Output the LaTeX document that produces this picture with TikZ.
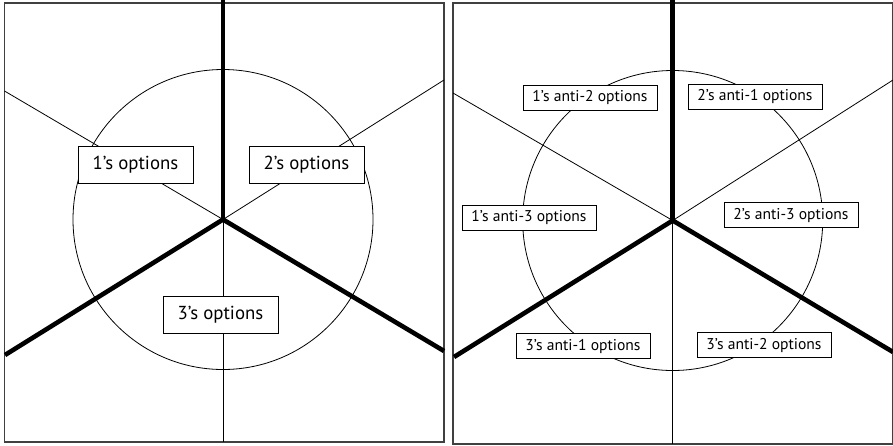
\documentclass[tikz,border=0pt]{standalone}
\usepackage{fontspec}
\setmainfont{PT Sans}
\begin{document}
\begin{tikzpicture}[x=1pt,y=-1pt,
  frame/.style={draw=black!75,line width=1.1pt},
  thin/.style={draw=black,line width=0.8pt},
  thick/.style={draw=black,line width=4.6pt},
  bigbox/.style={draw=black,fill=white,line width=0.8pt,inner sep=0pt,
    minimum width=115pt,minimum height=37pt,font=\fontsize{18.8}{21}\selectfont},
  smallbox/.style={draw=black,fill=white,line width=0.8pt,inner sep=0pt,
    minimum width=134pt,minimum height=25pt,font=\fontsize{15.6}{17}\selectfont}]
\useasboundingbox (0,0) rectangle (893,445);

% ---- left panel ----
\coordinate (L) at (223,219.5);
\coordinate (Ltop) at (223,0);
\coordinate (Lbot) at (223,442);
\coordinate (Lll) at (5,355);
\coordinate (Llr) at (444,351);
\coordinate (Lul) at (4.5,91);
\coordinate (Lur) at (444,80);
\draw[frame] (4.5,3) rectangle (444,442);
\draw[thin] (L) circle[radius=150pt];
\draw[thin] (L) -- (Lul);
\draw[thin] (L) -- (Lur);
\draw[thin] (L) -- (Lbot);
\draw[thick] (L) -- (Ltop);
\draw[thick] (L) -- (Lll);
\draw[thick] (L) -- (Llr);
\node[bigbox] (o1) at (135.5,164.5) {1’s options};
\node[bigbox] (o2) at (306.5,164.5) {2’s options};
\node[bigbox] (o3) at (220.5,314.5) {3’s options};

% ---- right panel ----
\coordinate (R) at (672.7,220.5);
\coordinate (Rtop) at (672.7,0);
\coordinate (Rbot) at (672.7,444);
\coordinate (Rll) at (454,357);
\coordinate (Rlr) at (893,352);
\coordinate (Rul) at (453,93);
\coordinate (Rur) at (893,80);
\draw[frame] (453,3) rectangle (892.5,444);
\draw[thin] (R) circle[radius=150pt];
\draw[thin] (R) -- (Rul);
\draw[thin] (R) -- (Rur);
\draw[thin] (R) -- (Rbot);
\draw[thick] (R) -- (Rtop);
\draw[thick] (R) -- (Rll);
\draw[thick] (R) -- (Rlr);
\node[smallbox] (a12) at (590,98) {1’s anti-2 options};
\node[smallbox] (a21) at (755,96.5) {2’s anti-1 options};
\node[smallbox] (a13) at (529,217.5) {1’s anti-3 options};
\node[smallbox] (a23) at (791,215) {2’s anti-3 options};
\node[smallbox] (a31) at (583,346) {3’s anti-1 options};
\node[smallbox] (a32) at (764,345) {3’s anti-2 options};
\end{tikzpicture}
\end{document}
